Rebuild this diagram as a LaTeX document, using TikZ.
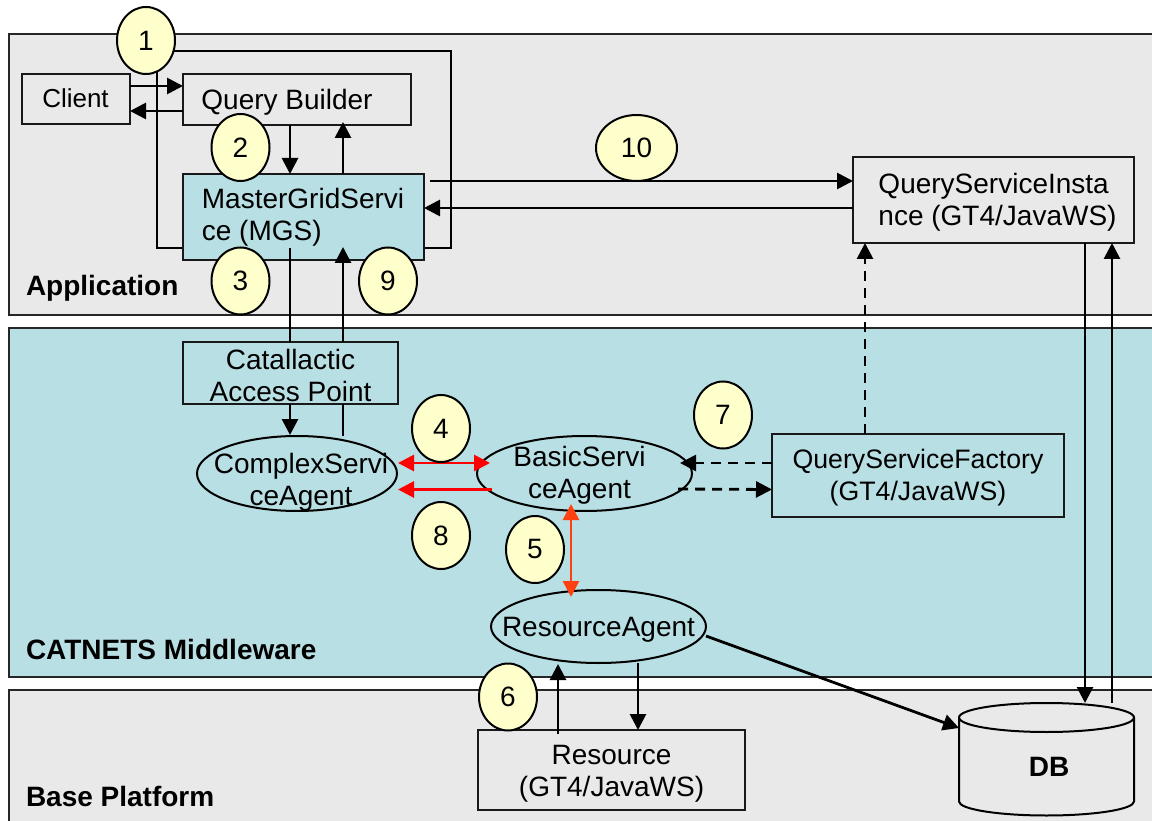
\documentclass[tikz,border=0pt]{standalone}
\usepackage{fontspec}
\setmainfont{Liberation Sans}
\usetikzlibrary{arrows.meta,shapes.geometric,shapes.symbols,backgrounds}
\definecolor{bandgrey}{HTML}{E9E9E9}
\definecolor{bandteal}{HTML}{B8DFE3}
\definecolor{numfill}{HTML}{FFFFCC}
\definecolor{orangered}{HTML}{FF4010}
\newcommand{\ovl}[4]{\makebox[0pt][c]{\hspace*{#2pt}\smash{\raisebox{#3pt}{\begin{tabular}{@{}#1@{}}#4\end{tabular}}}}}
\tikzset{
  x=1pt,y=-1pt,
  every node/.style={font=\fontsize{28}{32}\selectfont,inner sep=0pt,outer sep=0pt},
  band/.style={draw=black!85,line width=2pt,rectangle,anchor=north west},
  bandlabel/.style={anchor=base west,font=\fontsize{28}{32}\selectfont\bfseries},
  box/.style n args={2}{draw=black!90,line width=2pt,rectangle,minimum width=#1pt,minimum height=#2pt},
  oval/.style n args={2}{draw=black,line width=2pt,ellipse,minimum width=#1pt,minimum height=#2pt},
  num/.style={draw=black,line width=2pt,ellipse,fill=numfill,minimum width=58pt,minimum height=67pt},
  conn/.style={line width=2.8pt},
  arr/.style={conn,-{Triangle[length=16pt,width=16pt]}},
  darr/.style={arr,dash pattern=on 10pt off 7pt},
  redboth/.style={line width=2.8pt,red,{Triangle[length=16pt,width=16pt]}-{Triangle[length=16pt,width=16pt]}},
  redarr/.style={line width=2.8pt,red,-{Triangle[length=16pt,width=16pt]}},
  orangeboth/.style={line width=2.8pt,orangered,{Triangle[length=16pt,width=16pt]}-{Triangle[length=16pt,width=16pt]}}
}
\begin{document}
\begin{tikzpicture}
\clip (0,0) rectangle (1152,821);
% boxes
\node[box={108}{50}] (client) at (76,99) {\fontsize{26}{32}\selectfont\ovl{c}{-1}{-8.5}{Client}};
\node[box={228}{51}] (qb) at (297,99.5) {\ovl{l}{-20}{-9.5}{Query Builder}};
\node[box={241}{86},fill=bandteal] (mgs) at (303.5,217) {\ovl{l}{-1}{-7.5}{MasterGridServi\\ce (MGS)}};
\node[box={281}{86}] (qsi) at (993.5,200) {\ovl{l}{8}{-9}{QueryServiceInsta\\nce (GT4/JavaWS)}};
\node[box={215}{62},fill=bandteal] (cap) at (290.5,373) {\ovl{c}{0}{-12.25}{Catallactic\\Access Point}};
\node[box={292}{83},fill=bandteal] (qsf) at (918,475.5) {\fontsize{26.7}{32}\selectfont\ovl{c}{0}{-8.5}{QueryServiceFactory\\(GT4/JavaWS)}};
\node[box={267}{80}] (res) at (611.5,770) {\ovl{c}{0}{-10}{Resource\\(GT4/JavaWS)}};
\node[oval={200}{75}] (csa) at (297,473.5) {\ovl{c}{8}{-15.75}{ComplexServi\\ceAgent}};
\node[oval={215}{75}] (bsa) at (584.5,473.5) {\ovl{c}{-10}{-9}{BasicServi\\ceAgent}};
\node[oval={215}{73}] (ra) at (598.5,626.5) {\ovl{c}{0}{-10}{ResourceAgent}};
% database
\node[draw=none,minimum width=175pt,minimum height=112pt] (db) at (1046.5,759) {\ovl{c}{5}{-17}{\textbf{DB}}};
\draw[line width=2pt] (db.north west) ++(0,14.5) coordinate (dbtl) arc[start angle=180,end angle=360,x radius=87.5,y radius=-14.5] coordinate (dbtr)
  arc[start angle=0,end angle=180,x radius=87.5,y radius=-14.5];
\draw[line width=2pt] (dbtl) -- ++(0,84) arc[start angle=180,end angle=360,x radius=87.5,y radius=-14] -- (dbtr);
% helper coordinates for connector positions
\coordinate (xa) at (290,0);
\coordinate (xb) at (343,0);
\coordinate (ya) at (0,86);
\coordinate (yb) at (0,111);
\coordinate (yc) at (0,181);
\coordinate (yd) at (0,208);
\coordinate (ye) at (0,463);
\coordinate (yf) at (0,489.5);
\coordinate (xd) at (865,0);
\coordinate (xe) at (558,0);
\coordinate (xf) at (638,0);
\coordinate (xg) at (1085,0);
\coordinate (xh) at (1112,0);
\coordinate (mgsin) at (343,247);
\coordinate (mgsout) at (290,248);
\coordinate (mgsr) at (430,181);
\coordinate (bl) at (492,489.5);
\coordinate (ctr) at (398,463);
\coordinate (btl) at (490,463);
\coordinate (cbr) at (398,489.5);
\coordinate (btarr) at (680,463);
\coordinate (bout) at (678,489);
\coordinate (rt) at (571,597);
\coordinate (bb) at (571,504);
\coordinate (rao) at (706,636);
\coordinate (dbin) at (959,728);
\coordinate (rtop) at (558,664);
% connectors
\draw[arr] (client.east |- ya) -- (qb.west |- ya);
\draw[arr] (qb.west |- yb) -- (client.east |- yb);
\draw[arr] (qb.south -| xa) -- (mgs.north -| xa);
\draw[arr] (mgs.north -| xb) -- ([yshift=3pt]qb.south -| xb);
\draw[arr] (mgsr) -- (qsi.west |- yc);
\draw[arr] (qsi.west |- yd) -- (mgs.east |- yd);
\draw[conn] (mgsout) -- (cap.north -| xa);
\draw[arr] (cap.north -| xb) -- (mgsin);
\draw[arr] (cap.south -| xa) -- ([yshift=1pt]csa.north -| xa);
\draw[conn] (cap.south -| xb) -- (343,436);
\draw[redboth] (ctr) -- (btl);
\draw[redarr] (bl) -- (cbr);
\draw[orangeboth] (bb) -- (rt);
\draw[darr] (qsf.west |- ye) -- (btarr);
\draw[darr] (bout) -- (qsf.west |- yf);
\draw[darr] (qsf.north -| xd) -- (qsi.south -| xd);
\draw[arr] (ra.south -| xf) -- (res.north -| xf);
\draw[arr] ([yshift=-4pt]res.north -| xe) -- (rtop);
\draw[arr] (rao) -- (dbin);
\draw[arr] (qsi.south -| xg) -- (1085,703);
\draw[arr] (1112,703) -- (qsi.south -| xh);
% numbered markers
\node[num] (n1) at (146,40.5) {1};
\node[num] (n2) at (240.5,147.5) {2};
\node[num] (n3) at (240.5,281) {3};
\node[num] (n9) at (388,281) {9};
\node[num,minimum width=81pt,minimum height=66pt] (n10) at (636.5,148) {10};
\node[num] (n4) at (441,428.5) {4};
\node[num] (n8) at (441,535.5) {8};
\node[num] (n5) at (535,549.5) {5};
\node[num] (n7) at (723,415) {7};
\node[num] (n6) at (508,697) {6};
\begin{scope}[on background layer]
\node[band,fill=bandgrey,minimum width=1160pt,minimum height=281pt] (app) at (9,34) {};
\node[band,fill=bandteal,minimum width=1160pt,minimum height=349pt] (mw) at (9,328) {};
\node[band,fill=bandgrey,minimum width=1160pt,minimum height=150pt] (bp) at (9,690) {};
\draw[line width=2pt] (n1.center) -- (146,51) -- (451,51) -- (451,248) -- (mgs.east |- 0,248);
\draw[line width=2pt] (n1.center) ++(11,0) -- (157,248) -- (mgs.west |- 0,248);
\end{scope}
\node[bandlabel] (lapp) at (26,295) {Application};
\node[bandlabel] (lmw) at (26,659) {CATNETS Middleware};
\node[bandlabel] (lbp) at (26,806) {Base Platform};
\end{tikzpicture}
\end{document}
